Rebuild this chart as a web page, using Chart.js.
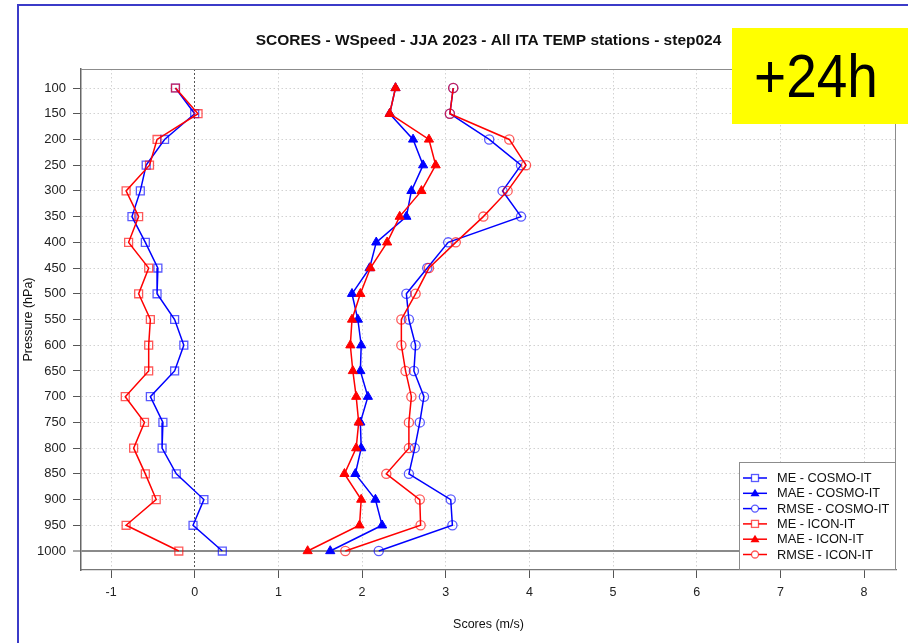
<!DOCTYPE html>
<html>
<head>
<meta charset="utf-8">
<script src="https://cdn.jsdelivr.net/npm/chart.js"></script>
<style>
  html, body { margin: 0; padding: 0; background: #ffffff; }
  #wrap { position: relative; width: 908px; height: 643px; overflow: hidden; background: #fff; }
  #c { position: absolute; left: 0; top: 0; }
  #frameTop { position: absolute; left: 17px; top: 4px; width: 891px; height: 2px; background: #3b3bc8; }
  #frameLeft { position: absolute; left: 17px; top: 4px; width: 2px; height: 639px; background: #3b3bc8; }
  #badge { position: absolute; left: 732px; top: 28px; width: 176px; height: 96px; background: #ffff00;
           font-family: "Liberation Sans", Arial, sans-serif; font-size: 55px; color: #000;
           display: flex; align-items: center; justify-content: center; }
  #badge span { display: inline-block; transform: scaleY(1.12); margin-left: -8px; }
</style>
</head>
<body>
<div id="wrap">
  <canvas id="c" width="908" height="643"></canvas>
  <div id="frameTop"></div>
  <div id="frameLeft"></div>
  <div id="badge"><span>+24h</span></div>
</div>
<script>
// ---- Data ----
const titleText = "SCORES - WSpeed - JJA 2023 - All ITA TEMP stations - step024";
const xTitle = "Scores (m/s)";
const yTitle = "Pressure (hPa)";
const levels = [100,150,200,250,300,350,400,450,500,550,600,650,700,750,800,850,900,950,1000];
const xTickValues = [-1,0,1,2,3,4,5,6,7,8];
const seriesNames = ["ME - COSMO-IT","MAE - COSMO-IT","RMSE - COSMO-IT","ME - ICON-IT","MAE - ICON-IT","RMSE - ICON-IT"];
const meCosmo   = [-0.23, 0.00,-0.36,-0.58,-0.65,-0.75,-0.59,-0.44,-0.45,-0.24,-0.13,-0.24,-0.53,-0.38,-0.39,-0.22, 0.11,-0.02, 0.33];
const maeCosmo  = [ 2.40, 2.33, 2.61, 2.73, 2.59, 2.53, 2.17, 2.09, 1.88, 1.95, 1.99, 1.98, 2.07, 1.98, 1.99, 1.92, 2.16, 2.24, 1.62];
const rmseCosmo = [ 3.09, 3.05, 3.52, 3.90, 3.68, 3.90, 3.03, 2.78, 2.53, 2.56, 2.64, 2.62, 2.74, 2.69, 2.63, 2.56, 3.06, 3.08, 2.20];
const meIcon    = [-0.23, 0.04,-0.45,-0.54,-0.82,-0.67,-0.79,-0.55,-0.67,-0.53,-0.55,-0.55,-0.83,-0.60,-0.73,-0.59,-0.46,-0.82,-0.19];
const maeIcon   = [ 2.40, 2.33, 2.80, 2.88, 2.71, 2.45, 2.30, 2.10, 1.98, 1.88, 1.86, 1.89, 1.93, 1.96, 1.93, 1.79, 1.99, 1.97, 1.35];
const rmseIcon  = [ 3.09, 3.05, 3.76, 3.96, 3.74, 3.45, 3.12, 2.80, 2.64, 2.47, 2.47, 2.52, 2.59, 2.56, 2.56, 2.29, 2.69, 2.70, 1.80];

// ---- Styles ----
const BLUE = "rgb(0,0,255)", BLUE_PT = "rgba(0,0,255,0.65)";
const RED = "rgb(255,0,0)", RED_PT = "rgba(255,0,0,0.65)";
const FONT = '"Liberation Sans", Arial, sans-serif';

function pts(vals) { return vals.map((v, i) => ({ x: v, y: levels[i] })); }

function mk(label, vals, color, ptColor, style, order) {
  const filled = style === 'triangle';
  const radius = style === 'rect' ? 5.6 : (style === 'triangle' ? 5.3 : 4.6);
  return {
    label: label, data: pts(vals), order: order,
    borderColor: color, borderWidth: 1.5, backgroundColor: filled ? color : 'rgba(0,0,0,0)',
    pointStyle: style, pointRadius: radius, pointBorderWidth: filled ? 1 : 1.3,
    pointBorderColor: filled ? color : ptColor, pointBackgroundColor: filled ? color : 'rgba(0,0,0,0)',
    showLine: true, tension: 0, fill: false
  };
}

const datasets = [
  mk(seriesNames[0], meCosmo,   BLUE, BLUE_PT, 'rect', 2),
  mk(seriesNames[1], maeCosmo,  BLUE, BLUE_PT, 'triangle', 2),
  mk(seriesNames[2], rmseCosmo, BLUE, BLUE_PT, 'circle', 2),
  mk(seriesNames[3], meIcon,    RED,  RED_PT,  'rect', 1),
  mk(seriesNames[4], maeIcon,   RED,  RED_PT,  'triangle', 1),
  mk(seriesNames[5], rmseIcon,  RED,  RED_PT,  'circle', 1)
];

// plot box + legend drawn in chart coordinates
const boxPlugin = {
  id: 'boxPlugin',
  beforeDatasetsDraw(chart) {
    const { ctx, chartArea: a } = chart;
    ctx.save();
    ctx.strokeStyle = '#8c8c8c'; ctx.lineWidth = 1;
    ctx.beginPath();
    ctx.moveTo(a.left, a.top + 0.5); ctx.lineTo(a.right - 0.5, a.top + 0.5); ctx.lineTo(a.right - 0.5, a.bottom);
    ctx.stroke();
    ctx.restore();
  },
  afterDraw(chart) {
    const { ctx, chartArea: a } = chart;
    const w = 157, h = 108;
    const L = a.right - w, T = a.bottom - h;
    ctx.save();
    ctx.fillStyle = '#fff';
    ctx.fillRect(L, T, w, h);
    ctx.strokeStyle = '#8c8c8c'; ctx.lineWidth = 1;
    ctx.strokeRect(L + 0.5, T + 0.5, w - 1, h - 1);
    ctx.font = '12.8px ' + FONT;
    ctx.textBaseline = 'middle'; ctx.textAlign = 'left';
    chart.data.datasets.forEach((ds, i) => {
      const y = T + 16 + i * 15.3;
      ctx.strokeStyle = ds.borderColor; ctx.lineWidth = 1.5;
      ctx.beginPath(); ctx.moveTo(L + 4, y); ctx.lineTo(L + 28, y); ctx.stroke();
      const cx = L + 16;
      ctx.lineWidth = 1.3;
      ctx.strokeStyle = ds.pointBorderColor;
      ctx.beginPath();
      if (ds.pointStyle === 'rect') {
        ctx.fillStyle = '#fff'; ctx.fillRect(cx - 3.5, y - 3.5, 7, 7);
        ctx.strokeRect(cx - 3.5, y - 3.5, 7, 7);
      } else if (ds.pointStyle === 'triangle') {
        ctx.fillStyle = ds.borderColor;
        ctx.moveTo(cx, y - 4.5); ctx.lineTo(cx + 4.5, y + 3); ctx.lineTo(cx - 4.5, y + 3); ctx.closePath(); ctx.fill();
      } else {
        ctx.fillStyle = '#fff';
        ctx.arc(cx, y, 3.5, 0, Math.PI * 2); ctx.fill(); ctx.stroke();
      }
      ctx.fillStyle = '#111';
      ctx.fillText(ds.label, L + 38, y + 0.5);
    });
    ctx.restore();
  }
};

new Chart(document.getElementById('c'), {
  type: 'scatter',
  data: { datasets: datasets },
  plugins: [boxPlugin],
  options: {
    responsive: false, animation: false, devicePixelRatio: 1,
    layout: { padding: { left: 0, right: 12, top: 0, bottom: 0 } },
    plugins: {
      legend: { display: false },
      tooltip: { enabled: false },
      title: {
        display: true, text: titleText, fullSize: false, color: '#111',
        font: { family: FONT, size: 15.5, weight: 'bold' },
        padding: { top: 31, bottom: 19.4 }
      }
    },
    scales: {
      x: {
        type: 'linear', position: 'bottom', min: -1.359, max: 8.382,
        afterBuildTicks(s) { s.ticks = xTickValues.map(v => ({ value: v })); },
        afterFit(s) { s.height = 73; },
        ticks: { color: '#222', font: { family: FONT, size: 12.5 }, padding: 7, maxRotation: 0, autoSkip: false,
                 callback: v => String(v) },
        grid: {
          color: ctx => (ctx.tick && ctx.tick.value === 0) ? '#555' : '#d2d2d2',
          lineWidth: 1, tickLength: 8, tickColor: '#555', tickWidth: 1, tickBorderDash: []
        },
        border: { display: true, color: '#777', width: 1.2,
                  dash: ctx => ctx.type === 'tick' ? (ctx.tick.value === 0 ? [2, 2] : [1.5, 2.5]) : [] },
        title: { display: true, text: xTitle, color: '#111', font: { family: FONT, size: 12.5 }, padding: { top: 0, bottom: 11 } }
      },
      y: {
        type: 'linear', position: 'left', reverse: true, min: 63.06, max: 1036.9,
        afterBuildTicks(s) { s.ticks = levels.map(v => ({ value: v })); },
        afterFit(s) { s.width = 81; },
        ticks: { color: '#222', font: { family: FONT, size: 13 }, padding: 7, autoSkip: false,
                 callback: v => String(v) },
        grid: {
          color: ctx => (ctx.tick && ctx.tick.value === 1000) ? '#8a8a8a' : '#d2d2d2',
          lineWidth: ctx => (ctx.tick && ctx.tick.value === 1000) ? 2 : 1,
          tickLength: 8, tickColor: '#555', tickWidth: 1, tickBorderDash: []
        },
        border: { display: true, color: '#666', width: 1.5,
                  dash: ctx => (ctx.type === 'tick' && ctx.tick.value !== 1000) ? [1.5, 2.5] : [] },
        title: { display: true, text: yTitle, color: '#111', font: { family: FONT, size: 12.5 }, padding: { top: 21, bottom: 0 } }
      }
    }
  }
});
</script>
</body>
</html>
